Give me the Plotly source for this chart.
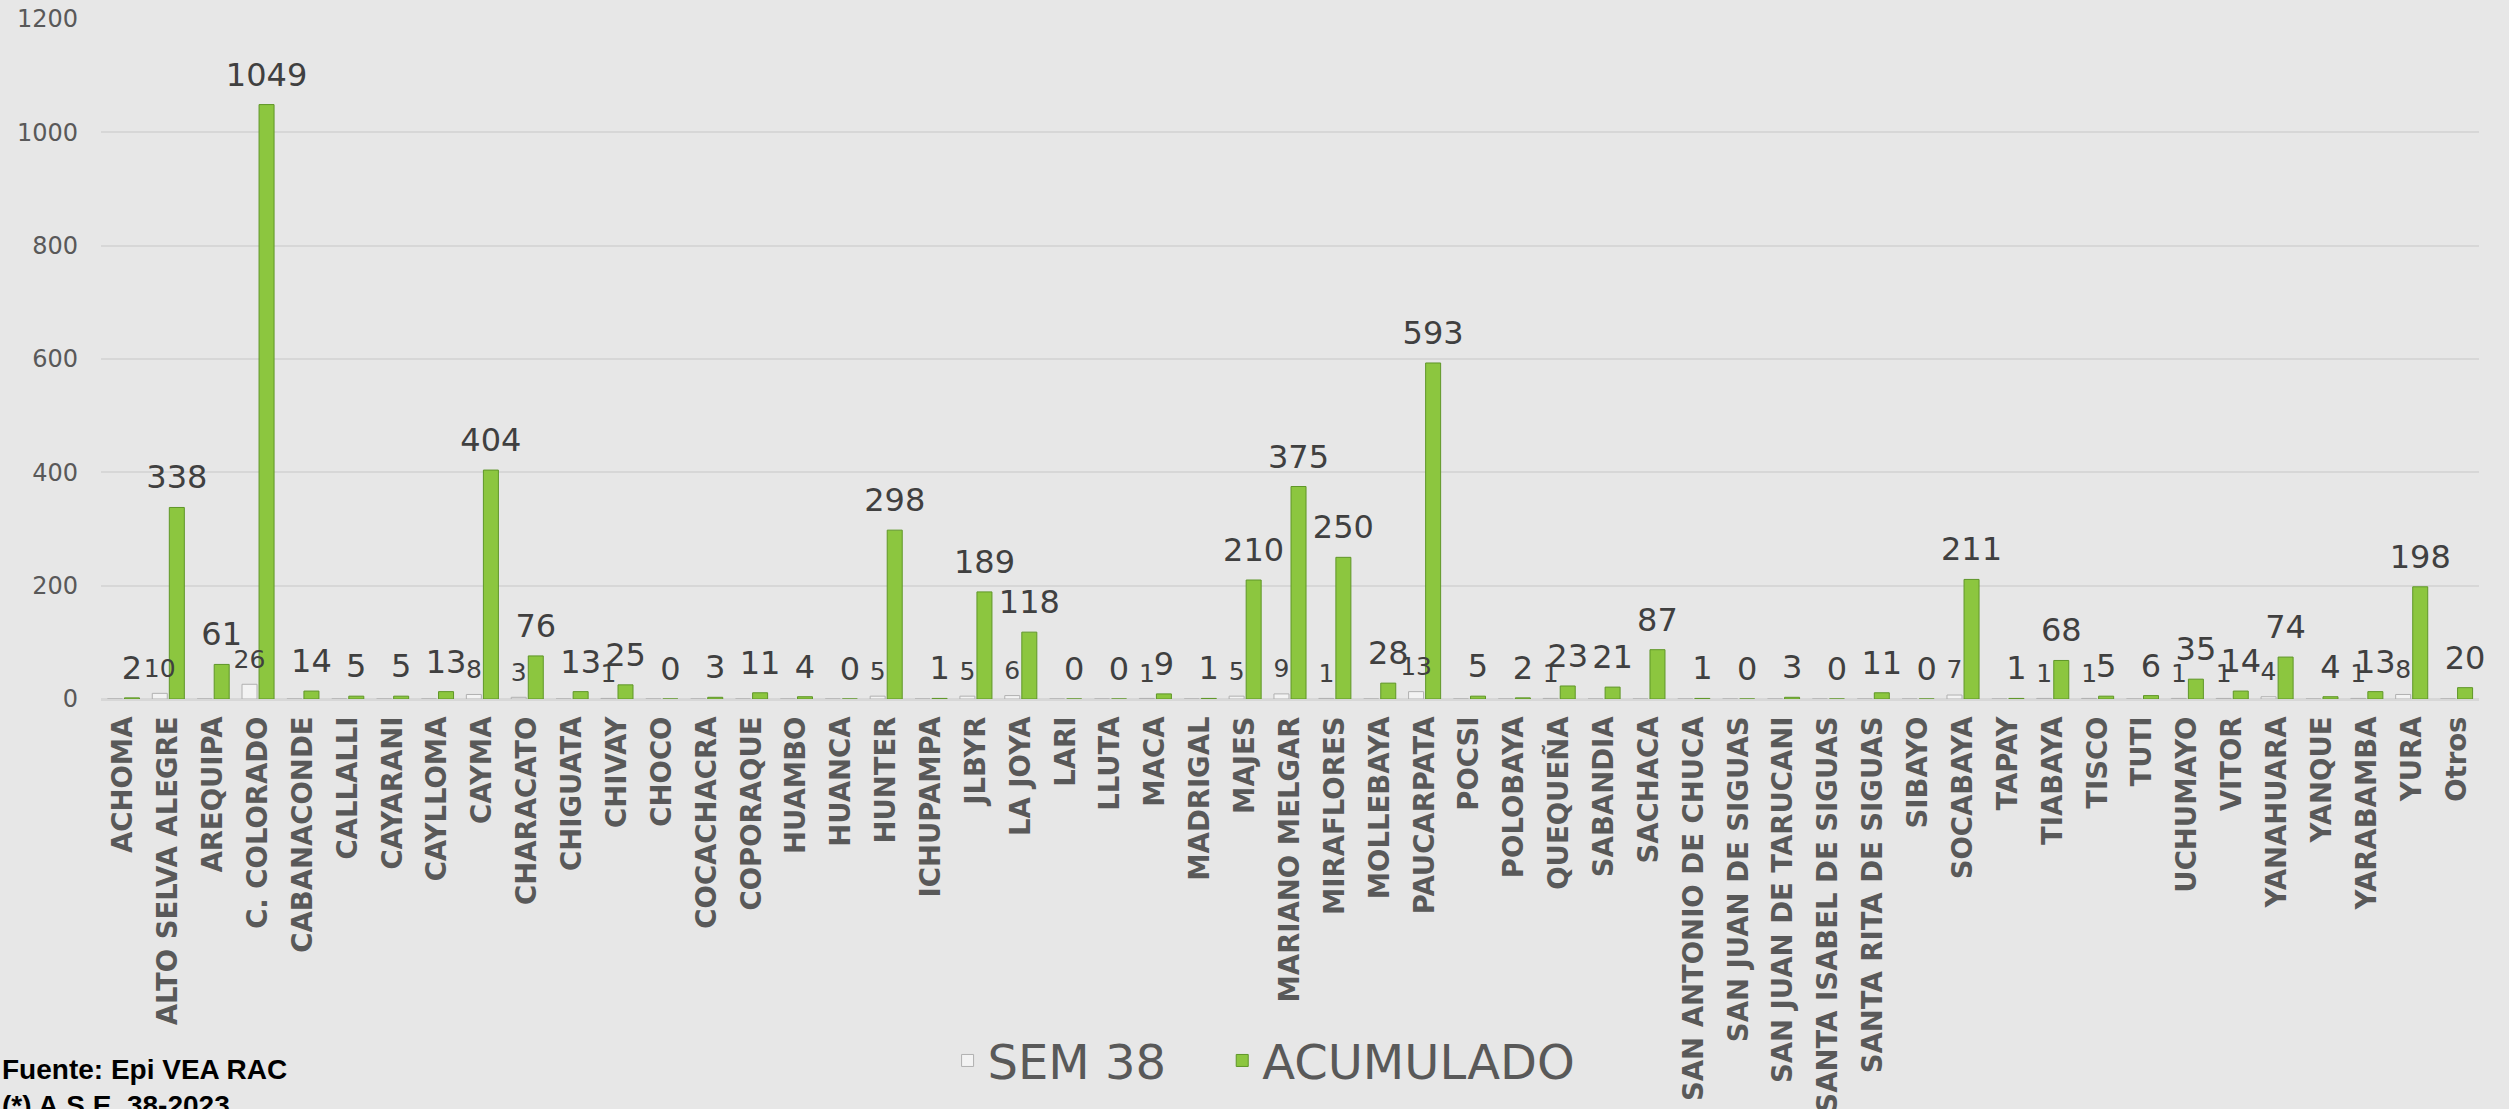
import plotly.graph_objects as go

# Distritos (eje X)
distritos = [
    "ACHOMA", "ALTO SELVA ALEGRE", "AREQUIPA", "C. COLORADO", "CABANACONDE",
    "CALLALLI", "CAYARANI", "CAYLLOMA", "CAYMA", "CHARACATO", "CHIGUATA",
    "CHIVAY", "CHOCO", "COCACHACRA", "COPORAQUE", "HUAMBO", "HUANCA",
    "HUNTER", "ICHUPAMPA", "JLBYR", "LA JOYA", "LARI", "LLUTA", "MACA",
    "MADRIGAL", "MAJES", "MARIANO MELGAR", "MIRAFLORES", "MOLLEBAYA",
    "PAUCARPATA", "POCSI", "POLOBAYA", "QUEQUEÑA", "SABANDIA", "SACHACA",
    "SAN ANTONIO DE CHUCA", "SAN JUAN DE SIGUAS", "SAN JUAN DE TARUCANI",
    "SANTA ISABEL DE SIGUAS", "SANTA RITA DE SIGUAS", "SIBAYO", "SOCABAYA",
    "TAPAY", "TIABAYA", "TISCO", "TUTI", "UCHUMAYO", "VITOR", "YANAHUARA",
    "YANQUE", "YARABAMBA", "YURA", "Otros",
]

# Casos de la semana 38
sem38 = [
    0, 10, 0, 26, 0,
    0, 0, 0, 8, 3, 0,
    1, 0, 0, 0, 0, 0,
    5, 0, 5, 6, 0, 0, 1,
    0, 5, 9, 1, 0,
    13, 0, 0, 1, 0, 0,
    0, 0, 0,
    0, 0, 0, 7,
    0, 1, 1, 0, 1, 1, 4,
    0, 1, 8, 0,
]

# Casos acumulados
acumulado = [
    2, 338, 61, 1049, 14,
    5, 5, 13, 404, 76, 13,
    25, 0, 3, 11, 4, 0,
    298, 1, 189, 118, 0, 0, 9,
    1, 210, 375, 250, 28,
    593, 5, 2, 23, 21, 87,
    1, 0, 3,
    0, 11, 0, 211,
    1, 68, 5, 6, 35, 14, 74,
    4, 13, 198, 20,
]

y_ticks = [0, 200, 400, 600, 800, 1000, 1200]

sem_text = [str(v) if v > 0 else "" for v in sem38]
acu_text = [str(v) for v in acumulado]

GAP = 0.24
LEGEND_FONT = dict(family="DejaVu Sans", size=48, color="#595959")

fig = go.Figure()

fig.add_trace(go.Bar(
    name="SEM 38",
    x=distritos,
    y=sem38,
    marker=dict(color="#f3f3f3", line=dict(color="#b0b0b0", width=1)),
    hoverinfo="skip",
    legend="legend",
))

fig.add_trace(go.Bar(
    name="ACUMULADO",
    x=distritos,
    y=acumulado,
    marker=dict(color="#8cc63f", line=dict(color="#5f9628", width=1)),
    hoverinfo="skip",
    legend="legend2",
))

# value labels, grouped the same way as the bars
fig.add_trace(go.Scatter(
    x=distritos,
    y=sem38,
    mode="markers+text",
    text=sem_text,
    textposition="top center",
    textfont=dict(family="DejaVu Sans", size=25, color="#404040"),
    marker=dict(size=15, color="rgba(0,0,0,0)"),
    cliponaxis=False,
    showlegend=False,
    hoverinfo="skip",
))

fig.add_trace(go.Scatter(
    x=distritos,
    y=acumulado,
    mode="markers+text",
    text=acu_text,
    textposition="top center",
    textfont=dict(family="DejaVu Sans", size=32, color="#404040"),
    marker=dict(size=16, color="rgba(0,0,0,0)"),
    cliponaxis=False,
    showlegend=False,
    hoverinfo="skip",
))

fig.update_layout(
    width=2509,
    height=1109,
    margin=dict(l=101, r=30, t=19, b=410, autoexpand=False),
    paper_bgcolor="#e7e7e7",
    plot_bgcolor="#e7e7e7",
    barmode="group",
    bargap=GAP,
    bargroupgap=0.12,
    scattermode="group",
    scattergap=GAP,
    showlegend=True,
    legend=dict(
        orientation="h",
        x=0.356, xanchor="left",
        y=-0.532, yanchor="middle",
        font=LEGEND_FONT,
        bgcolor="rgba(0,0,0,0)",
        itemwidth=30,
    ),
    legend2=dict(
        orientation="h",
        x=0.4715, xanchor="left",
        y=-0.532, yanchor="middle",
        font=LEGEND_FONT,
        bgcolor="rgba(0,0,0,0)",
        itemwidth=30,
    ),
    font=dict(family="DejaVu Sans", color="#595959"),
    annotations=[
        dict(
            text="<b>Fuente: Epi VEA RAC</b><br><b>(*) A.S.E. 38-2023</b>",
            xref="paper", yref="paper",
            x=0, y=0,
            xanchor="left", yanchor="top",
            xshift=-101, yshift=-353,
            align="left",
            showarrow=False,
            font=dict(family="Liberation Sans", size=28, color="#000000"),
        )
    ],
)

fig.update_xaxes(
    type="category",
    tickangle=-90,
    tickfont=dict(family="DejaVu Sans", size=27.5, color="#595959", weight="bold"),
    ticks="",
    ticklabelstandoff=11,
    showline=False,
    showgrid=False,
)

fig.update_yaxes(
    range=[0, 1200],
    tickvals=y_ticks,
    tickfont=dict(family="DejaVu Sans", size=24, color="#595959"),
    showgrid=True,
    gridcolor="#d7d7d7",
    gridwidth=2,
    zeroline=True,
    zerolinecolor="#d7d7d7",
    zerolinewidth=3,
    ticks="",
    ticklabelstandoff=22,
)

fig.write_html("out.html")
